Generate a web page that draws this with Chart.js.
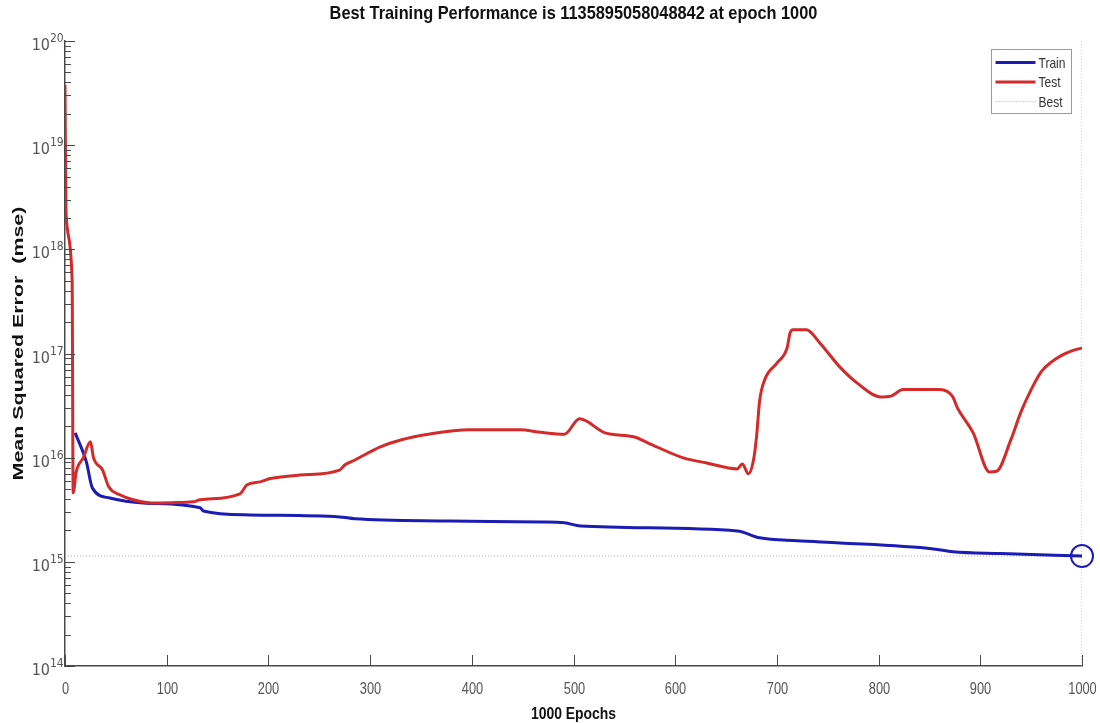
<!DOCTYPE html>
<html>
<head>
<meta charset="utf-8">
<script src="https://cdn.jsdelivr.net/npm/chart.js@4/dist/chart.umd.min.js"></script>
<style>
  html, body { margin: 0; padding: 0; background: #fff; }
  #wrap { width: 1100px; height: 723px; }
</style>
</head>
<body>
<div id="wrap"><canvas id="perf" width="1100" height="723"></canvas></div>
<script>
// performance record (mse per epoch)
const trainEpochs = [10, 21, 27, 44, 77, 133, 136, 182, 270, 285, 378, 468, 491, 507, 661, 683, 720, 762, 854, 873, 920, 1000];
const trainMse = [1.73e16, 9.1e15, 5.1e15, 4.1e15, 3.68e15, 3.3e15, 3.08e15, 2.82e15, 2.7e15, 2.59e15, 2.47e15, 2.41e15, 2.37e15, 2.21e15, 1.98e15, 1.7e15, 1.59e15, 1.52e15, 1.33e15, 1.25e15, 1.2e15, 1.135895058048842e15];

const testEpochs = [0, 1, 7, 8, 11, 18, 25, 28, 37, 43, 54, 67, 84, 105, 126, 133, 172, 179, 192, 202, 231, 270, 275, 285, 310, 330, 359, 398, 447, 468, 491, 506, 531, 560, 573, 608, 631, 661, 666, 672, 677, 680, 683, 688, 700, 710, 713, 716, 729, 742, 762, 779, 802, 812, 824, 860, 873, 877, 893, 909, 916, 930, 940, 950, 960, 970, 980, 990, 1000];
const testMse = [3.8e19, 2.2e18, 5.1e17, 4.6e15, 7.3e15, 1.0e16, 1.42e16, 1.0e16, 7.6e15, 5.25e15, 4.4e15, 3.94e15, 3.68e15, 3.7e15, 3.77e15, 3.94e15, 4.5e15, 5.5e15, 5.86e15, 6.3e15, 6.8e15, 7.6e15, 8.5e15, 9.5e15, 1.27e16, 1.48e16, 1.69e16, 1.85e16, 1.85e16, 1.75e16, 1.68e16, 2.36e16, 1.73e16, 1.58e16, 1.39e16, 9.95e15, 8.9e15, 7.8e15, 8.7e15, 7.0e15, 9.5e15, 1.6e16, 3.5e16, 5.6e16, 8.1e16, 1.13e17, 1.58e17, 1.69e17, 1.69e17, 1.27e17, 7.4e16, 5.2e16, 3.83e16, 3.9e16, 4.5e16, 4.5e16, 3.83e16, 3.07e16, 1.73e16, 7.3e15, 7.4e15, 1.48e16, 2.75e16, 4.5e16, 6.7e16, 8.3e16, 9.6e16, 1.06e17, 1.13e17];

const bestEpoch = 1000;
const bestMse = 1135895058048842;
const totalEpochs = 1000;

const xTicks = [0, 100, 200, 300, 400, 500, 600, 700, 800, 900, 1000];
const yDecades = [14, 15, 16, 17, 18, 19, 20];

const BLUE = '#1c1cb4';
const RED = '#d42a2a';
const AXIS = '#4a4a4a';
const DOT = '#a8a8a8';
const COND = '"DejaVu Sans Condensed", "Liberation Sans", sans-serif';
const SANS = '"Liberation Sans", Arial, sans-serif';

const toPoints = (xs, ys) => xs.map((x, i) => ({ x: x, y: ys[i] }));

// helvetica-like squeezed text
function squeezed(ctx, text, x, y, font, sx, align) {
  ctx.save();
  ctx.font = font;
  ctx.textAlign = align || 'center';
  ctx.translate(x, y);
  ctx.scale(sx, 1);
  ctx.fillText(text, 0, 0);
  ctx.restore();
}

// matlab-style decorations: inner ticks, power-of-ten labels, titles, legend box
const perfDecor = {
  id: 'perfDecor',
  afterDraw(chart) {
    const { ctx, chartArea: a, scales: { x, y } } = chart;
    ctx.save();
    ctx.strokeStyle = AXIS;
    ctx.lineWidth = 1;

    // x ticks pointing inwards + labels
    ctx.fillStyle = '#555';
    ctx.textBaseline = 'middle';
    xTicks.forEach(v => {
      const px = Math.round(x.getPixelForValue(v)) + 0.5;
      ctx.beginPath();
      ctx.moveTo(px, a.bottom);
      ctx.lineTo(px, a.bottom - 11);
      ctx.stroke();
      squeezed(ctx, String(v), px, a.bottom + 24, '16px ' + SANS, 0.8);
    });

    // y major / minor ticks
    yDecades.forEach(k => {
      const py = Math.round(y.getPixelForValue(Math.pow(10, k))) + 0.5;
      ctx.beginPath();
      ctx.moveTo(a.left, py);
      ctx.lineTo(a.left + 10, py);
      ctx.stroke();
      if (k < 20) {
        for (let m = 2; m <= 9; m++) {
          const my = Math.round(y.getPixelForValue(m * Math.pow(10, k))) + 0.5;
          ctx.beginPath();
          ctx.moveTo(a.left, my);
          ctx.lineTo(a.left + 6, my);
          ctx.stroke();
        }
      }
    });

    // y labels as 10^k
    ctx.textBaseline = 'alphabetic';
    yDecades.forEach(k => {
      const py = y.getPixelForValue(Math.pow(10, k));
      ctx.font = '16px ' + COND;
      ctx.textAlign = 'right';
      ctx.fillText('10', a.left - 15, py + 9);
      ctx.font = '12px ' + COND;
      ctx.textAlign = 'left';
      ctx.fillText(String(k), a.left - 15, py + 1);
    });

    // titles
    ctx.fillStyle = '#111';
    ctx.textBaseline = 'middle';
    squeezed(ctx, 'Best Training Performance is ' + bestMse + ' at epoch ' + bestEpoch,
      (a.left + a.right) / 2, 14, 'bold 19px ' + SANS, 0.86);
    squeezed(ctx, totalEpochs + ' Epochs', (a.left + a.right) / 2, 714, 'bold 17px ' + SANS, 0.82);

    // y axis title, stretched along the axis
    ctx.save();
    ctx.translate(19, (a.top + a.bottom) / 2 - 10);
    ctx.rotate(-Math.PI / 2);
    ctx.scale(1.53, 1);
    ctx.font = 'bold 14px ' + SANS;
    ctx.textAlign = 'center';
    ctx.fillText('Mean Squared Error  (mse)', 0, 0);
    ctx.restore();

    // legend
    const lx = 991.5, ly = 49.5, lw = 80, lh = 64;
    ctx.fillStyle = '#fff';
    ctx.fillRect(lx, ly, lw, lh);
    ctx.strokeStyle = '#9a9a9a';
    ctx.strokeRect(lx, ly, lw, lh);
    const rows = [
      { label: 'Train', color: BLUE, width: 3, dash: [] },
      { label: 'Test', color: RED, width: 3, dash: [] },
      { label: 'Best', color: DOT, width: 1, dash: [1, 2] }
    ];
    rows.forEach((r, i) => {
      const ry = ly + 13 + i * 19.5;
      ctx.strokeStyle = r.color;
      ctx.lineWidth = r.width;
      ctx.setLineDash(r.dash);
      ctx.beginPath();
      ctx.moveTo(lx + 4, ry);
      ctx.lineTo(lx + 44, ry);
      ctx.stroke();
      ctx.setLineDash([]);
      ctx.fillStyle = '#333';
      ctx.textBaseline = 'middle';
      squeezed(ctx, r.label, lx + 47, ry + 1, '15px ' + SANS, 0.8, 'left');
    });
    ctx.restore();
  }
};

new Chart(document.getElementById('perf'), {
  type: 'line',
  data: {
    datasets: [
      {
        label: 'Best point',
        data: [{ x: bestEpoch, y: bestMse }],
        showLine: false,
        clip: false,
        pointRadius: 11,
        pointBorderWidth: 2,
        pointBorderColor: BLUE,
        pointBackgroundColor: 'rgba(0,0,0,0)',
        order: 0
      },
      {
        label: 'Test',
        data: toPoints(testEpochs, testMse),
        borderColor: RED,
        borderWidth: 3,
        pointRadius: 0,
        cubicInterpolationMode: 'monotone',
        order: 1
      },
      {
        label: 'Train',
        data: toPoints(trainEpochs, trainMse),
        borderColor: BLUE,
        borderWidth: 3,
        pointRadius: 0,
        cubicInterpolationMode: 'monotone',
        order: 2
      },
      {
        label: 'Best',
        data: [{ x: 0, y: bestMse }, { x: totalEpochs, y: bestMse }],
        borderColor: DOT,
        borderWidth: 1,
        borderDash: [1, 2],
        pointRadius: 0,
        order: 3
      },
      {
        label: 'Best epoch',
        data: [{ x: bestEpoch, y: 1e14 }, { x: bestEpoch, y: 1e20 }],
        borderColor: DOT,
        borderWidth: 1,
        borderDash: [1, 2],
        pointRadius: 0,
        order: 3
      }
    ]
  },
  options: {
    responsive: false,
    animation: false,
    devicePixelRatio: 1,
    layout: { padding: { left: 0, right: 18, top: 41, bottom: 0 } },
    plugins: {
      legend: { display: false },
      tooltip: { enabled: false },
      title: { display: false }
    },
    scales: {
      x: {
        type: 'linear',
        min: 0,
        max: totalEpochs,
        afterFit: s => { s.height = 57; },
        grid: { display: false, drawTicks: false },
        border: { display: true, color: AXIS, width: 1.5 },
        ticks: { display: false }
      },
      y: {
        type: 'logarithmic',
        min: 1e14,
        max: 1e20,
        afterFit: s => { s.width = 65; },
        grid: { display: false, drawTicks: false },
        border: { display: true, color: AXIS, width: 1.5 },
        ticks: { display: false }
      }
    }
  },
  plugins: [perfDecor]
});
</script>
</body>
</html>
